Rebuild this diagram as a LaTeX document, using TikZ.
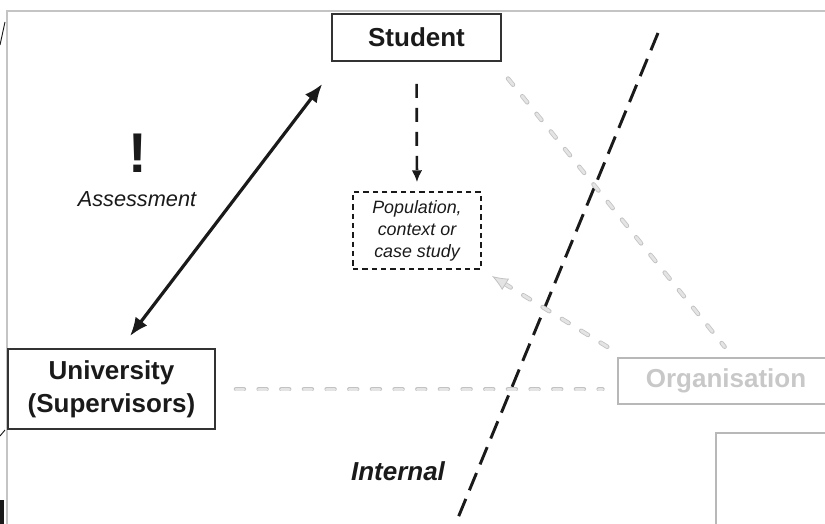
\documentclass[tikz,border=0pt]{standalone}
\usepackage{fontspec}
\setmainfont{Liberation Sans}
\usetikzlibrary{arrows.meta}
\definecolor{ink}{HTML}{1A1A1A}
\definecolor{boxline}{HTML}{333333}
\definecolor{frameg}{HTML}{C4C4C4}
\definecolor{pale}{HTML}{C8C8C8}
\definecolor{paleline}{HTML}{B8B8B8}
\definecolor{dashout}{HTML}{C2C2C2}
\definecolor{dashin}{HTML}{E4E4E4}
\tikzset{
  mainbox/.style={draw=boxline, line width=1.4pt, text=ink, inner sep=0pt,
    font=\fontsize{19.5pt}{24.75pt}\selectfont\bfseries, align=center},
  palebox/.style={draw=paleline, line width=1.3pt, text=pale, inner sep=0pt,
    font=\fontsize{19.5pt}{24.75pt}\selectfont\bfseries},
  dotbox/.style={draw=ink, line width=1.1pt, dash pattern=on 4pt off 3pt, text=ink,
    inner sep=0pt, align=center, font=\fontsize{13.4pt}{16.5pt}\selectfont\itshape},
  framestroke/.style={draw=frameg, line width=1.5pt},
  twoway/.style={draw=ink, line width=2.4pt, {Latex[length=14pt,width=11pt]}-{Latex[length=14pt,width=11pt]}},
  downarrow/.style={draw=ink, line width=2pt, dash pattern=on 10.5pt off 7.5pt, -{Latex[length=9pt,width=8pt]}},
  divider/.style={draw=ink, line width=2.2pt, dash pattern=on 14pt off 7pt},
  paledash/.style={draw=dashout, double=dashin, line width=0.6pt, double distance=2.1pt,
    line cap=round, dash pattern=on 6pt off 11pt},
  paletip/.style={-{Latex[length=12pt,width=10pt,fill=dashin]}}
}
\begin{document}
\begin{tikzpicture}[x=0.75pt,y=-0.75pt]
\useasboundingbox (0,0) rectangle (825,524);
% outer frame of the cropped page
\draw[framestroke] (7,524) -- (7,11) -- (825,11);
% edge artifacts
\draw[ink, line width=0.7pt] (5,22) -- (0,45);
\draw[ink, line width=0.7pt] (0,436) -- (5,430);
\fill[ink] (0,500) rectangle (4,524);

% nodes
\node[mainbox, minimum width=126.75pt, minimum height=35.25pt] (s) at (416.5,37.5) {Student};
\node[mainbox, minimum width=155.25pt, minimum height=60pt] (u) at (111.5,389) {University\\(Supervisors)};
\node[palebox, minimum width=162pt, minimum height=34.5pt] (o) at (726,381) {Organisation};
\node[dotbox, minimum width=96pt, minimum height=57.75pt] (p) at (417,230.5) {Population,\\context or\\case study};
\node[draw=paleline, line width=1.3pt, minimum width=97.5pt, minimum height=81pt, anchor=north west, inner sep=0pt] (x) at (715,432) {};

\node[text=ink, font=\fontsize{42pt}{42pt}\selectfont\bfseries] (bang) at (138,153) {!};
\node[text=ink, font=\fontsize{16.3pt}{18pt}\selectfont\itshape] (assess) at (137,199) {Assessment};
\node[text=ink, font=\fontsize{19.5pt}{22pt}\selectfont\bfseries\itshape] (internal) at (398,471) {Internal};

% divider line
\coordinate (d1) at (658,33);
\coordinate (d2) at (453,530);
\draw[divider] (d1) -- (d2);

% connectors
\draw[twoway, shorten <=20.7pt, shorten >=11.3pt] ([xshift=6pt]s.south west) -- ([xshift=7pt]u.north);
\draw[downarrow, shorten <=16.5pt, shorten >=6.75pt] (s.south) -- (p.north);
\draw[paledash, shorten <=15pt, shorten >=11pt] ([yshift=-0.2pt]u.east) -- ([yshift=-0.2pt]u.east -| o.west);
\draw[paledash, shorten <=16pt, shorten >=10pt] ([xshift=-5.5pt]s.south east) -- ([xshift=5.25pt]o.north);
\draw[paledash, paletip, shorten <=14.8pt, shorten >=9pt] ([xshift=5.25pt]o.north west) -- (p.south east);
\end{tikzpicture}
\end{document}
